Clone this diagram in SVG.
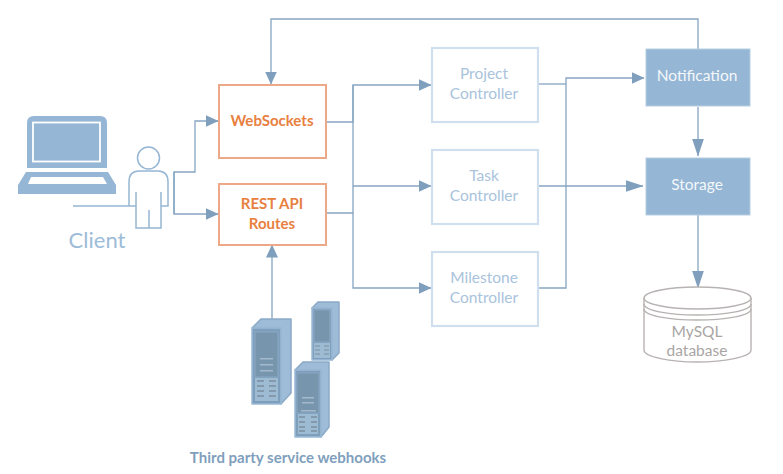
<svg xmlns="http://www.w3.org/2000/svg" width="783" height="474" viewBox="0 0 783 474">
<style>
text{font-family:Lato,"Open Sans","Liberation Sans",sans-serif;text-anchor:middle}
.c{fill:none;stroke:#86a5c2;stroke-width:1.300}
.o{fill:#fff;stroke:#eda887;stroke-width:2}
.ot{fill:#e8803f;font-size:15px;font-weight:700}
.p{fill:#fff;stroke:#cfdfee;stroke-width:2.200}
.pt{fill:#a9c3dc;font-size:15.500px}
.s{fill:#95b6d4;stroke:#b6cde2;stroke-width:1}
.st{fill:#f4f8fb;font-size:15.500px}
.l{fill:none;stroke:#95b6d4;stroke-width:1.500}
.srv{fill:#7e9fbc;stroke:#9bbad6;stroke-width:1.500;stroke-linejoin:round}
.top{fill:#9ebcd8;stroke:#8aa9c6;stroke-width:1.500;stroke-linejoin:round}
.inner{fill:#7895ae;stroke:#88a8c3;stroke-width:1}
.pan{fill:#9dbbd3}
.bar{fill:#a3b9cc}
.rk{stroke:#7c8f9f;fill:none}
.db{fill:#fff;stroke:#b8b3b3;stroke-width:1.400}
</style>
<defs>
<marker id="a" markerUnits="userSpaceOnUse" markerWidth="13" markerHeight="12" refX="12.500" refY="6" orient="auto"><path d="M0 0L13 6L0 12Z" fill="#7f9fbd"/></marker>
<marker id="b" markerUnits="userSpaceOnUse" markerWidth="18" markerHeight="12" refX="17.500" refY="6" orient="auto"><path d="M0 0L18 6L0 12Z" fill="#7f9fbd"/></marker>
</defs>
<g id="connectors">
<path class="c" d="M698 49V19H271V84" marker-end="url(#a)"/>
<path class="c" d="M174 214V172H195V121H218" marker-end="url(#a)"/>
<path class="c" d="M174 172V214H218" marker-end="url(#a)"/>
<path class="c" d="M272 322V245" marker-end="url(#a)"/>
<path class="c" d="M326 122H353V85H431" marker-end="url(#a)"/>
<path class="c" d="M326 213H353V85"/>
<path class="c" d="M353 186H431" marker-end="url(#a)"/>
<path class="c" d="M353 213V288H431" marker-end="url(#a)"/>
<path class="c" d="M538 84H566"/>
<path class="c" d="M538 288H566V78H644" marker-end="url(#a)"/>
<path class="c" d="M538 186H643" marker-end="url(#b)"/>
<path class="c" d="M698 107V156" marker-end="url(#b)"/>
<path class="c" d="M698 215V288" marker-end="url(#b)"/>
</g>
<g id="client">
<path d="M27 123Q27 116 34 116H100Q107 116 107 123V168H27Z" fill="#95b6d4"/>
<rect x="33" y="122.500" width="67" height="39" fill="#95b6d4" stroke="#fff" stroke-width="1.800"/>
<path d="M26 172H108L116 185V194H18V185Z" fill="#95b6d4"/>
<path d="M31 177H103L107 184H28Z" fill="#fff"/>
<circle cx="148.500" cy="158" r="11" class="l"/>
<path class="l" d="M73 206H136M129 206V182Q129 171 139 171H158Q168 171 168 182V206H161M136 192V228H161V192M149 210V228"/>
<text x="97" y="248" font-size="22" style="fill:#9dbcd8">Client</text>
</g>
<g id="websockets">
<rect class="o" x="219" y="85" width="107" height="73"/>
<text class="ot" x="272" y="126">WebSockets</text>
</g>
<g id="rest-api">
<rect class="o" x="219" y="184" width="107" height="61"/>
<text class="ot" x="272" y="209">REST API</text>
<text class="ot" x="272" y="229">Routes</text>
</g>
<g id="project-controller">
<rect class="p" x="432" y="48" width="106" height="74"/>
<text class="pt" x="484" y="79">Project</text>
<text class="pt" x="484" y="99">Controller</text>
</g>
<g id="task-controller">
<rect class="p" x="432" y="150" width="106" height="74"/>
<text class="pt" x="484" y="181">Task</text>
<text class="pt" x="484" y="201">Controller</text>
</g>
<g id="milestone-controller">
<rect class="p" x="432" y="252" width="106" height="74"/>
<text class="pt" x="484" y="283">Milestone</text>
<text class="pt" x="484" y="303">Controller</text>
</g>
<g id="notification">
<rect class="s" x="646" y="49" width="104" height="57"/>
<text class="st" x="697" y="81">Notification</text>
</g>
<g id="storage">
<rect class="s" x="646" y="158" width="104" height="57"/>
<text class="st" x="697" y="190">Storage</text>
</g>
<g id="mysql">
<path class="db" d="M644 298V350C644 357 671 362 697 362C724 362 751 357 751 350V298"/>
<ellipse class="db" cx="697.500" cy="298" rx="53.500" ry="11"/>
<path class="db" style="fill:none" d="M644 304C644 311 671 315 697 315C724 315 751 311 751 304M644 309C644 316 671 320 697 320C724 320 751 316 751 309"/>
<text x="697" y="337" font-size="15.500" style="fill:#aaa5a5">MySQL</text>
<text x="697" y="356" font-size="15.500" style="fill:#aaa5a5">database</text>
</g>
<g id="webhook-servers">
<g id="server-1">
<path class="top" d="M252 328L261 319H291V393L281 404V328Z"/>
<rect class="srv" x="252" y="328" width="29" height="76"/>
<rect class="inner" x="255" y="332" width="23" height="45"/>
<rect class="bar" x="260" y="358" width="13" height="1.500"/><rect class="bar" x="260" y="364" width="13" height="1.500"/><rect class="bar" x="260" y="370" width="13" height="1.500"/>
<rect class="pan" x="255" y="378" width="23" height="23"/>
<path class="rk" d="M257 381h7M269 381h7M257 386h7M269 386h7M257 391h7M269 391h7M257 396h7M269 396h7" stroke-width="1.500"/>
</g>
<g id="server-2">
<path class="top" d="M312 308L318 302H339V353L332 360V308Z"/>
<rect class="srv" x="312" y="308" width="20" height="52"/>
<rect class="inner" x="314" y="310" width="16" height="32"/>
<rect class="pan" x="314" y="343" width="16" height="15"/>
<path class="rk" d="M315 346h5M324 346h5M315 350h5M324 350h5M315 354h5M324 354h5" stroke-width="1.200"/>
</g>
<g id="server-3">
<path class="top" d="M295 370L303 362H329V427L321 437V370Z"/>
<rect class="srv" x="295" y="370" width="26" height="67"/>
<rect class="inner" x="297" y="373" width="22" height="40"/>
<rect class="bar" x="302" y="397" width="12" height="1.500"/><rect class="bar" x="302" y="402" width="12" height="1.500"/><rect class="bar" x="301" y="410" width="15" height="1.500"/>
<rect class="pan" x="298" y="414" width="20" height="20"/>
<path class="rk" d="M299 417h6M311 417h6M299 422h6M311 422h6M299 427h6M311 427h6M299 431h6M311 431h6" stroke-width="1.300"/>
</g>
<text x="288" y="463" font-size="15" style="fill:#7f9fbd;font-weight:700">Third party service webhooks</text>
</g>
</svg>
